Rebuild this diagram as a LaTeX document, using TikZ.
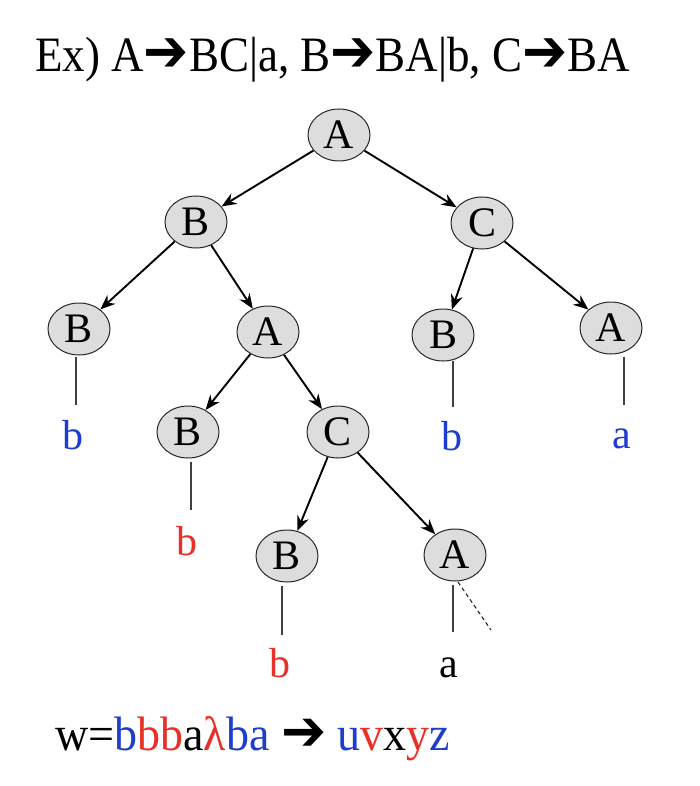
\documentclass[tikz,border=0pt]{standalone}
\usepackage{fontspec}
\setmainfont{Liberation Serif}
\newfontfamily\dv{DejaVu Sans}
\usetikzlibrary{shapes.geometric,arrows.meta}
\definecolor{tblue}{RGB}{30,60,205}
\definecolor{tred}{RGB}{232,48,40}
\definecolor{nodefill}{RGB}{221,221,221}
\newcommand{\harr}{{\dv\fontsize{54}{54}\selectfont ➔}}
\tikzset{
  tnode/.style={ellipse,draw=black!85,line width=1pt,fill=nodefill,minimum width=62pt,minimum height=52pt,inner sep=0pt,font=\fontsize{42}{42}\selectfont},
  leaf/.style={anchor=base,inner sep=0pt,font=\fontsize{42}{42}\selectfont},
  edge/.style={line width=1.9pt,-{Stealth[length=15pt,width=12pt]}},
  stem/.style={line width=1.2pt,draw=black!75},
  dstem/.style={line width=1.1pt,draw=black!85,dashed,dash pattern=on 4pt off 3pt}
}
\begin{document}
\begin{tikzpicture}[x=1pt,y=-1pt]
\useasboundingbox (0,0) rectangle (700,786);
% title
\node[anchor=base west,inner sep=0pt,font=\fontsize{45}{45}\selectfont] (title) at (35,72) {\scalebox{1}[1.1]{Ex) A\harr BC|a, B\harr BA|b, C\harr BA}};
% tree nodes
\node[tnode] (A0) at (339,135) {A};
\node[tnode] (B1) at (196,222) {B};
\node[tnode] (C1) at (482,223) {C};
\node[tnode] (B2a) at (79,329) {B};
\node[tnode] (A2) at (268,332) {A};
\node[tnode] (B2b) at (443,335) {B};
\node[tnode] (A2b) at (611,328) {A};
\node[tnode] (B3) at (188,432) {B};
\node[tnode] (C3) at (338,432) {C};
\node[tnode] (B4) at (287,556) {B};
\node[tnode] (A4) at (455,555) {A};
% edges
\draw[edge] (A0) -- (B1);
\draw[edge] (A0) -- (C1);
\draw[edge] (B1) -- (B2a);
\draw[edge] (B1) -- (A2);
\draw[edge] (C1) -- (B2b);
\draw[edge] (C1) -- (A2b);
\draw[edge] (A2) -- (B3);
\draw[edge] (A2) -- (C3);
\draw[edge] (C3) -- (B4);
\draw[edge] (C3) -- (A4);
% leaves
\node[leaf,text=tblue] (l1) at (73,449) {b};
\node[leaf,text=tblue] (l2) at (452,450) {b};
\node[leaf,text=tblue] (l3) at (622,448) {a};
\node[leaf,text=tred] (l4) at (187,555) {b};
\node[leaf,text=tred] (l5) at (280,677) {b};
\node[leaf] (l6) at (449,677) {a};
% stems
\coordinate (s1a) at (76,357); \coordinate (s1b) at (76,405);
\coordinate (s2a) at (453,361); \coordinate (s2b) at (453,407);
\coordinate (s3a) at (624,357); \coordinate (s3b) at (624,405);
\coordinate (s4a) at (191,462); \coordinate (s4b) at (191,510);
\coordinate (s5a) at (282,586); \coordinate (s5b) at (282,635);
\coordinate (s6a) at (453,585); \coordinate (s6b) at (453,632);
\coordinate (d6a) at (458,582); \coordinate (d6b) at (491,630);
\draw[stem] (s1a) -- (s1b);
\draw[stem] (s2a) -- (s2b);
\draw[stem] (s3a) -- (s3b);
\draw[stem] (s4a) -- (s4b);
\draw[stem] (s5a) -- (s5b);
\draw[stem] (s6a) -- (s6b);
\draw[dstem] (d6a) -- (d6b);
% bottom line
\node[anchor=base west,inner sep=0pt,font=\fontsize{46}{46}\selectfont] (wline) at (55,750) {\scalebox{1}[1.05]{w=\textcolor{tblue}{b}\textcolor{tred}{bb}a\textcolor{tred}{λ}\textcolor{tblue}{ba} \harr{} \textcolor{tblue}{u}\textcolor{tred}{v}x\textcolor{tred}{y}\textcolor{tblue}{z}}};
\end{tikzpicture}
\end{document}
